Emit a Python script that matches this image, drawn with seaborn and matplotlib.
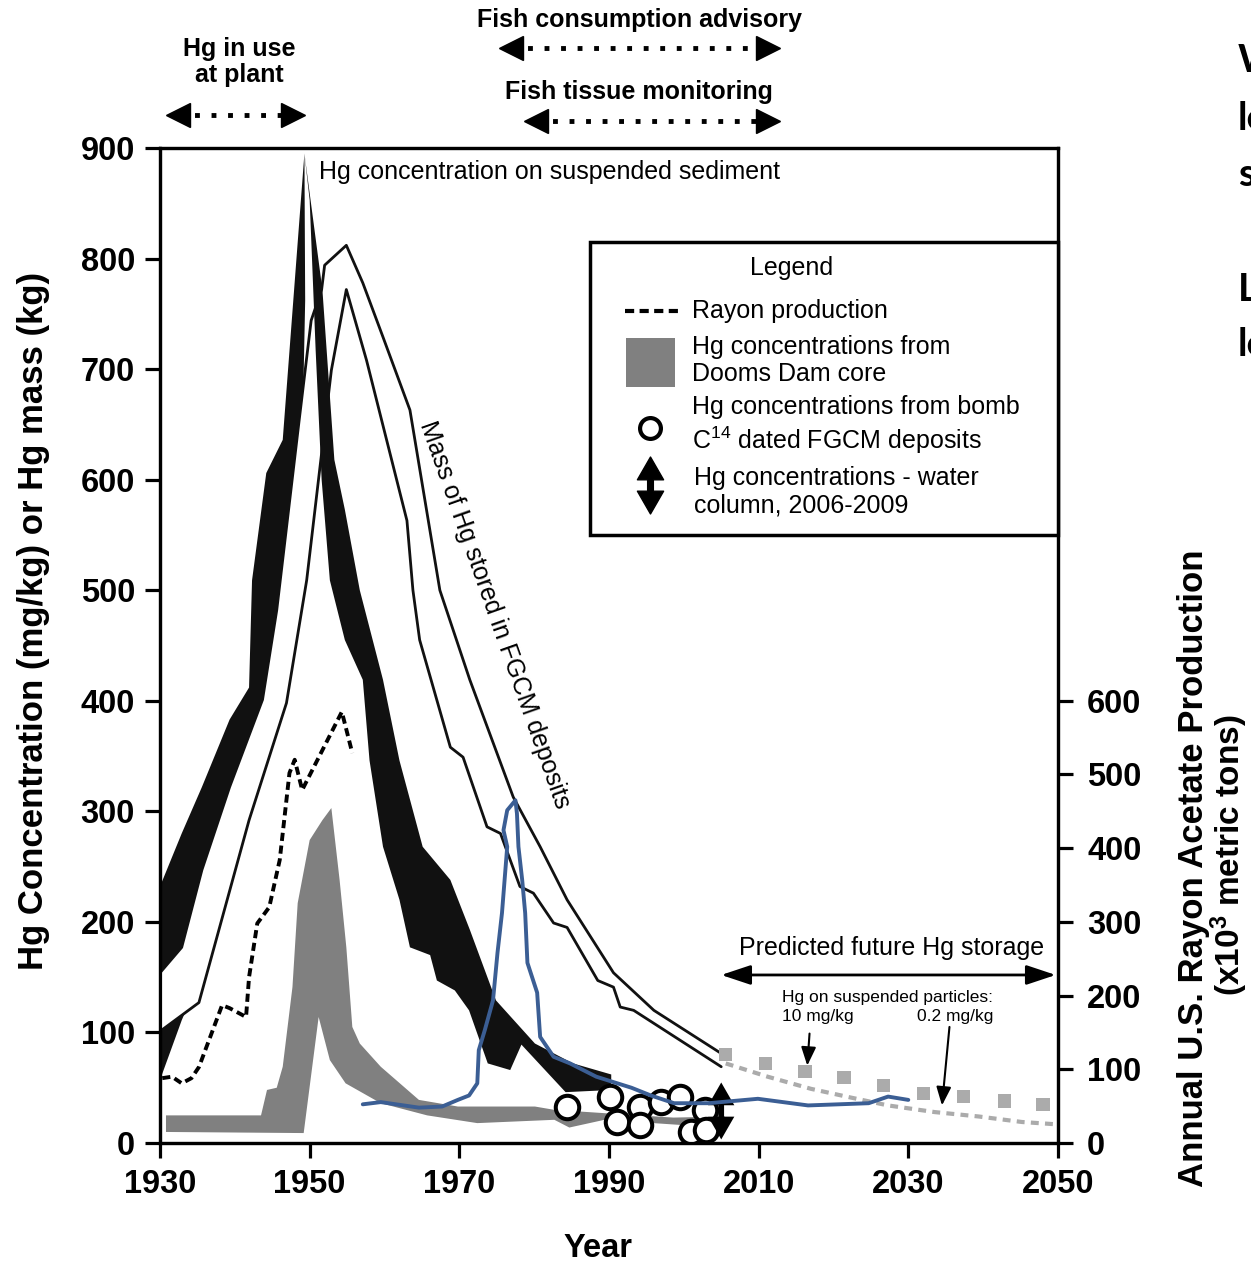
import matplotlib
matplotlib.use("Agg")
import matplotlib.pyplot as plt
import matplotlib.transforms as mtransforms
from matplotlib.path import Path
from matplotlib.patches import Rectangle
import seaborn as sns

# ---------------- data ----------------
# Hg concentration on suspended sediment (mg/kg) - black band, rising part (polygon outline)
sed_rise_year = [1930.0, 1930.0, 1932.9, 1935.6, 1939.3, 1941.9, 1942.3, 1944.2, 1946.4, 1949.3,
                 1949.4, 1948.6, 1947.0, 1940.6, 1935.9, 1934.6, 1932.9]
sed_rise_val = [57, 232, 280, 322, 383, 412, 509, 606, 636, 895,
                762, 500, 401, 292, 193, 138, 111]
# black band, falling part (polygon outline)
sed_fall_year = [1949.3, 1951.7, 1953.3, 1954.7, 1956.7, 1959.8, 1962.0, 1965.1, 1968.8, 1971.4,
                 1974.9, 1980.1, 1985.2, 1990.3,
                 1990.3, 1984.2, 1978.3, 1976.8, 1973.8, 1971.3, 1969.4, 1967.0, 1966.1, 1963.4,
                 1962.0, 1959.8, 1958.0, 1957.1, 1954.7, 1952.7, 1951.6, 1950.8, 1950.0]
sed_fall_val = [895, 772, 618, 573, 500, 419, 346, 268, 238, 193,
                129, 90, 72, 62,
                48, 46, 89, 66, 72, 120, 138, 147, 170, 177,
                220, 268, 346, 419, 455, 509, 600, 717, 853]

# Mass of Hg stored in FGCM deposits (kg) - envelope
mass_up_year = [1930.0, 1932.9, 1935.6, 1939.3, 1943.7, 1945.6, 1948.6, 1950.2, 1951.6, 1952.0,
                1954.9, 1957.1, 1959.8, 1963.4, 1967.4, 1971.4, 1977.2, 1980.8, 1984.4, 1990.6,
                1996.0, 2005.0]
mass_up_val = [154, 177, 247, 322, 401, 482, 654, 744, 772, 794,
               812, 778, 729, 663, 500, 419, 313, 268, 220, 154,
               120, 81]
mass_lo_year = [1930.0, 1935.2, 1941.9, 1946.9, 1949.6, 1952.9, 1954.9, 1957.6, 1963.0, 1963.8,
                1964.7, 1968.8, 1970.5, 1973.7, 1975.5, 1978.1, 1979.9, 1982.6, 1984.4, 1988.5,
                1990.6, 1991.5, 1993.3, 2005.0]
mass_lo_val = [101, 127, 292, 398, 509, 699, 772, 708, 563, 500,
               455, 358, 349, 286, 280, 232, 226, 199, 195, 147,
               141, 123, 120, 69]

# Hg concentrations from Dooms Dam core (mg/kg) - grey band
dd_up_year = [1930.8, 1943.5, 1944.3, 1945.6, 1946.4, 1947.7, 1948.4, 1950.0, 1951.7, 1952.9,
              1954.0, 1954.9, 1955.7, 1956.7, 1959.5, 1964.6, 1969.8, 1980.1, 1982.7, 1989.4,
              1998.6, 2005.5]
dd_up_val = [25, 25, 48, 50, 69, 141, 217, 274, 292, 303,
             238, 177, 105, 90, 69, 39, 33, 33, 30, 27,
             23, 24]
dd_lo_year = [1930.8, 1949.2, 1951.2, 1952.7, 1954.8, 1959.5, 1965.7, 1972.4, 1982.7, 1984.7,
              1989.4, 2000.3, 2005.5]
dd_lo_val = [10, 9, 114, 75, 54, 36, 25, 18, 21, 14,
             21, 16, 18]

# Rayon production (x10^3 metric tons, right axis)
rayon_year = [1930.3, 1931.6, 1932.9, 1934.2, 1935.2, 1938.3, 1939.3, 1941.5, 1941.9, 1943.0,
              1944.6, 1946.0, 1947.3, 1948.0, 1949.0, 1954.3, 1955.7]
rayon_prod = [88, 90, 81, 88, 103, 187, 183, 171, 225, 298,
              320, 384, 502, 520, 479, 585, 529]

# Hg concentrations from bomb C14 dated FGCM deposits (mg/kg)
fgcm_year = [1984.4, 1990.2, 1991.1, 1994.1, 1994.2, 1997.0, 1999.5, 2000.9, 2002.8, 2002.9]
fgcm_val = [33, 42, 19, 33, 16, 37, 42, 10, 30, 12]

# Hg concentrations - water column, 2006-2009
wc_year = [2005.0]
wc_val = [29]

# Predicted future Hg storage (kg)
pred10_year = [2005.6, 2010.9, 2016.2, 2021.4, 2026.7, 2032.0, 2037.4, 2042.8, 2048.0]
pred10_val = [80, 72, 65, 59, 52, 45, 42, 38, 35]
pred02_year = [2005.6, 2011.2, 2017.0, 2022.4, 2027.3, 2033.5, 2039.4, 2045.2, 2049.6]
pred02_val = [72, 60, 49, 41, 34, 28, 24, 19, 17]

# Hand-drawn blue overlay curve
blue_year = [1957.1, 1959.5, 1964.6, 1967.7, 1969.8, 1971.3, 1972.4, 1972.6, 1973.4, 1974.5,
             1975.1, 1975.7, 1976.4, 1975.9, 1976.4, 1977.5, 1977.7, 1977.9, 1978.4, 1978.8,
             1979.1, 1980.4, 1980.8, 1982.6, 1984.8, 1988.3, 1993.0, 1995.6, 1998.7, 2003.3,
             2009.9, 2016.6, 2024.7, 2027.3, 2030.0]
blue_val = [35, 37, 32, 33, 39, 43, 54, 84, 102, 129,
            172, 208, 268, 283, 301, 310, 298, 268, 238, 208,
            163, 136, 96, 78, 72, 60, 50, 43, 36, 36,
            40, 34, 36, 42, 39]

x_ticks = [1930, 1950, 1970, 1990, 2010, 2030, 2050]
y_ticks = [0, 100, 200, 300, 400, 500, 600, 700, 800, 900]
y2_ticks = [0, 100, 200, 300, 400, 500, 600]

# ---------------- style ----------------
sns.set_theme(style="ticks")
plt.rcParams["font.family"] = ["Liberation Sans", "DejaVu Sans"]
plt.rcParams.update({
    "mathtext.fontset": "custom",
    "mathtext.rm": "Liberation Sans",
    "mathtext.it": "Liberation Sans:italic",
    "mathtext.bf": "Liberation Sans:bold",
    "text.color": "black", "axes.labelcolor": "black",
    "xtick.color": "black", "ytick.color": "black",
    "axes.edgecolor": "black",
})

fig = plt.figure(figsize=(12.51, 12.63), dpi=100)
ax = fig.add_axes([0.1279, 0.0950, 0.7178, 0.7878])
ax.set_facecolor("white")

BLACK = "#111111"
GREY = "#808080"
LGREY = "#ababab"
BLUE = "#3b5e94"

# grey Dooms Dam band
ax.fill(dd_up_year + dd_lo_year[::-1], dd_up_val + dd_lo_val[::-1],
        color=GREY, lw=0, zorder=1)
# black band (rising part, beneath the mass envelope)
ax.fill(sed_rise_year, sed_rise_val, color=BLACK, lw=0, zorder=2)
# mass envelope (white inside)
ax.fill(mass_up_year + mass_lo_year[::-1], mass_up_val + mass_lo_val[::-1],
        color="white", lw=0, zorder=3)
# black band (falling part)
ax.fill(sed_fall_year, sed_fall_val, color=BLACK, lw=0, zorder=4)
sns.lineplot(x=mass_up_year, y=mass_up_val, ax=ax, color=BLACK, lw=2.0, zorder=5)
sns.lineplot(x=mass_lo_year, y=mass_lo_val, ax=ax, color=BLACK, lw=2.0, zorder=5)

# predictions
sns.lineplot(x=pred02_year, y=pred02_val, ax=ax, color=LGREY, lw=3.0,
             linestyle=(0, (1.9, 1.5)), zorder=5)
sns.scatterplot(x=pred10_year, y=pred10_val, ax=ax, marker="s", s=90,
                color=LGREY, edgecolor="none", linewidth=0, zorder=5)

# FGCM circles
sns.scatterplot(x=fgcm_year, y=fgcm_val, ax=ax, marker="o", s=285,
                color="white", edgecolor="black", linewidth=2.9, zorder=6)

# water column double arrow
darrow = Path([(0, 1), (0.46, 0.2), (0.1, 0.2), (0.1, -0.2), (0.46, -0.2), (0, -1),
               (-0.46, -0.2), (-0.1, -0.2), (-0.1, 0.2), (-0.46, 0.2), (0, 1)],
              [Path.MOVETO] + [Path.LINETO] * 9 + [Path.CLOSEPOLY])
sns.scatterplot(x=wc_year, y=wc_val, ax=ax, marker=darrow, s=41 ** 2,
                color="black", edgecolor="none", linewidth=0, zorder=7)

# blue hand-drawn curve
sns.lineplot(x=blue_year, y=blue_val, ax=ax, sort=False, estimator=None,
             color=BLUE, lw=2.8, zorder=8)

ax.set_xlim(1930, 2050)
ax.set_ylim(0, 900)
ax.set_xticks(x_ticks)
ax.set_yticks(y_ticks)

# right axis - rayon
ax2 = ax.twinx()
sns.lineplot(x=rayon_year, y=rayon_prod, ax=ax2, color="black", lw=2.8,
             linestyle=(0, (2.1, 1.2)), zorder=4)
ax2.set_ylim(0, 1350)
ax2.set_yticks(y2_ticks)
ax2.set_xlim(1930, 2050)
ax2.set_ylabel("")
ax2.set_xlabel("")

for a in (ax, ax2):
    for s in a.spines.values():
        s.set_linewidth(2.3)
        s.set_color("black")
ax.tick_params(axis="both", direction="out", length=11, width=2.3, labelsize=23.5, pad=8)
ax.tick_params(axis="y", pad=7)
ax2.tick_params(axis="y", direction="out", length=11, width=2.3, labelsize=23.5, pad=10)
for t in ax.get_xticklabels() + ax.get_yticklabels() + ax2.get_yticklabels():
    t.set_fontweight("bold")

ax.set_xlabel("Year", fontsize=23.5, fontweight="bold")
ax.xaxis.set_label_coords(0.4877, -0.0905)
ax.set_ylabel("Hg Concentration (mg/kg) or Hg mass (kg)", fontsize=25, fontweight="bold")
ax.yaxis.set_label_coords(-0.1225, 0.525)

fig.text(1194 / 1251, 1 - 868 / 1263, "Annual U.S. Rayon Acetate Production",
         rotation=90, ha="center", va="center", fontsize=25, fontweight="bold")
fig.text(1229 / 1251, 1 - 855 / 1263, r"(x10$^{\mathbf{3}}$ metric tons)",
         rotation=90, ha="center", va="center", fontsize=24, fontweight="bold")

# in-plot annotations
ax.text(1951.3, 878, "Hg concentration on suspended sediment", fontsize=18,
        ha="left", va="center", zorder=9)
ax.text(1974.7, 478, "Mass of Hg stored in FGCM deposits", fontsize=18,
        rotation=-70.5, rotation_mode="anchor", ha="center", va="center", zorder=9)
ax.text(2027.7, 176, "Predicted future Hg storage", fontsize=18,
        ha="center", va="center", zorder=9)
ax.annotate("", xy=(2049.7, 152), xytext=(2005.0, 152),
            arrowprops=dict(arrowstyle="<|-|>,head_length=0.9,head_width=0.3",
                            lw=2, color="black", shrinkA=0, shrinkB=0, mutation_scale=20),
            zorder=9)
ax.text(2027.2, 132, "Hg on suspended particles:", fontsize=12.5, ha="center", va="center")
ax.text(2013.1, 114, "10 mg/kg", fontsize=12.5, ha="left", va="center")
ax.text(2031.2, 114, "0.2 mg/kg", fontsize=12.5, ha="left", va="center")
for (xt, yt), (xh, yh) in [((2016.8, 99), (2016.5, 70)), ((2035.5, 105), (2034.5, 34))]:
    ax.annotate("", xy=(xh, yh), xytext=(xt, yt),
                arrowprops=dict(arrowstyle="-|>,head_length=0.7,head_width=0.28",
                                lw=1.5, color="black", shrinkA=0, shrinkB=0,
                                mutation_scale=16))

# top annotations (above the axes)
trans = mtransforms.blended_transform_factory(ax.transData, ax.transAxes)


def dotted_arrow(x0, x1, y):
    ax.plot([x0, x1], [y, y], transform=trans, color="black", lw=3.5,
            ls=(0, (1, 2.4)), dash_capstyle="butt", clip_on=False)
    ax.plot([x0], [y], transform=trans, marker="<", ms=17, color="black",
            ls="none", clip_on=False)
    ax.plot([x1], [y], transform=trans, marker=">", ms=17, color="black",
            ls="none", clip_on=False)


ax.text(1994.1, 1.1286, "Fish consumption advisory", transform=trans, fontsize=18,
        fontweight="bold", ha="center", va="center", clip_on=False)
dotted_arrow(1976.9, 2011.3, 1.1005)
ax.text(1994.0, 1.0563, "Fish tissue monitoring", transform=trans, fontsize=18,
        fontweight="bold", ha="center", va="center", clip_on=False)
dotted_arrow(1980.3, 2011.3, 1.0271)
ax.text(1940.6, 1.0864, "Hg in use\nat plant", transform=trans, fontsize=18,
        fontweight="bold", ha="center", va="center", linespacing=1.15, clip_on=False)
dotted_arrow(1932.4, 1947.8, 1.0332)

# ---------------- legend box (drawn on the top axes) ----------------
T = ax2.transAxes
LZ = 20
ax2.add_patch(Rectangle((0.4788, 0.6111), 0.5212, 0.2944, transform=T, facecolor="white",
                        edgecolor="black", lw=2.5, zorder=LZ, clip_on=False))
ax2.text(0.7038, 0.8794, "Legend", transform=T, fontsize=18, ha="center", va="center",
         zorder=LZ + 1)
ax2.plot([0.5178, 0.5791], [0.8362, 0.8362], transform=T, color="black", lw=3,
         ls=(0, (2.2, 1.3)), dash_capstyle="butt", zorder=LZ + 1, clip_on=False)
ax2.text(0.5924, 0.8362, "Rayon production", transform=T, fontsize=18, ha="left",
         va="center", zorder=LZ + 1)
ax2.add_patch(Rectangle((0.5189, 0.7598), 0.0546, 0.0492, transform=T, facecolor=GREY,
                        edgecolor="none", zorder=LZ + 1, clip_on=False))
ax2.text(0.5924, 0.7864, "Hg concentrations from\nDooms Dam core", transform=T,
         fontsize=18, ha="left", va="center", zorder=LZ + 1)
ax2.plot([0.5457], [0.7186], transform=T, marker="o", ms=15, mfc="white", mec="black",
         mew=3, ls="none", zorder=LZ + 1, clip_on=False)
ax2.text(0.5924, 0.7211, "Hg concentrations from bomb\nC$^{14}$ dated FGCM deposits",
         transform=T, fontsize=18, ha="left", va="center", zorder=LZ + 1)
ax2.plot([0.5457], [0.6613], transform=T, marker=darrow, ms=41, color="black",
         ls="none", zorder=LZ + 1, clip_on=False)
ax2.text(0.5947, 0.6543, "Hg concentrations - water\ncolumn, 2006-2009", transform=T,
         fontsize=18, ha="left", va="center", zorder=LZ + 1)

# slide text cut off at the right edge (as in the reference)
for txt, ypx in [("Wh", 60), ("lo", 118), ("su", 175), ("Lo", 290), ("lo", 345)]:
    fig.text(1238 / 1251, 1 - ypx / 1263, txt, fontsize=28, fontweight="bold",
             family=["Lato", "Liberation Sans"], ha="left", va="center")

fig.savefig("out.png", dpi=100, facecolor="white")
